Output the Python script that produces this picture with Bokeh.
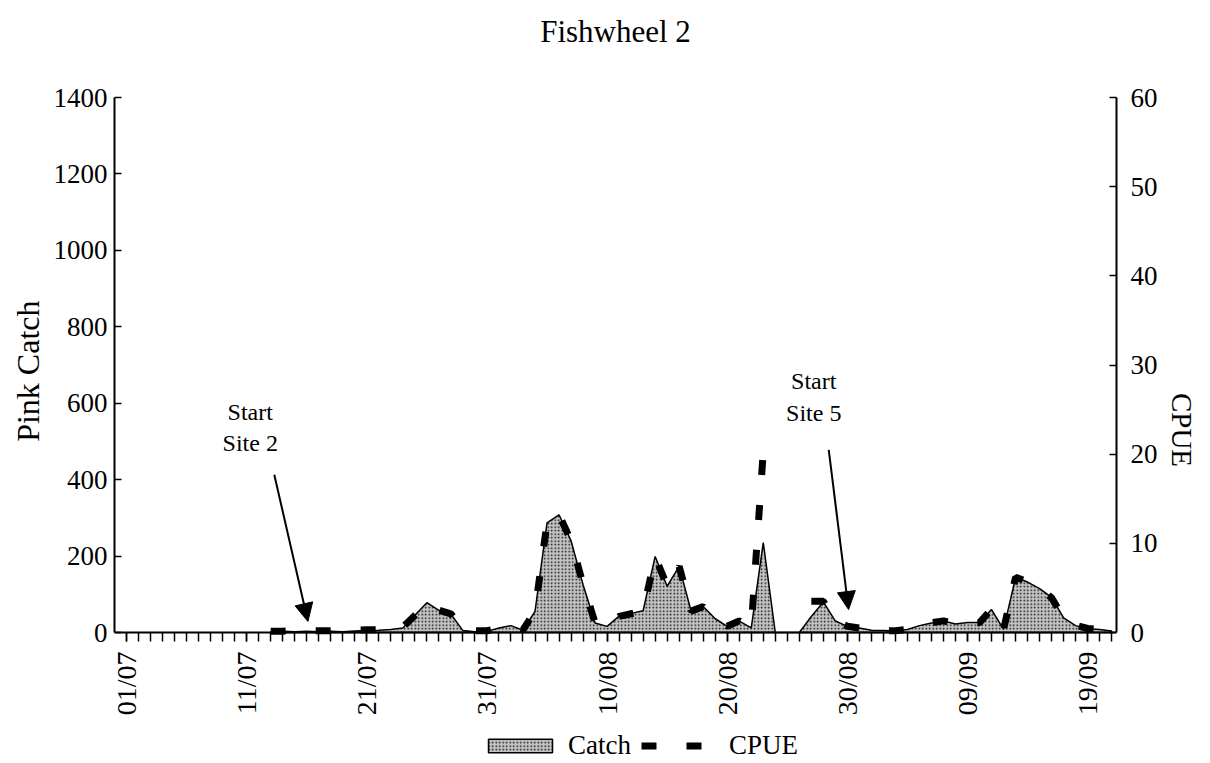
import math
import numpy as np
from bokeh.plotting import figure
from bokeh.models import (Range1d, LinearAxis, FixedTicker, Label, Arrow, Title,
                          NormalHead, Legend, LegendItem, ColumnDataSource)
from bokeh.embed import file_html
from bokeh.resources import INLINE

# ---------------- data ----------------
days = list(range(12, 83))          # day index, 0 = 01/07
catch = [2, 3, 2, 3, 2, 3, 2, 4, 5, 6, 8,
         12, 45, 78, 58, 48, 5, 2, 3, 12, 18, 6,
         55, 287, 308, 240, 125, 25, 16, 43, 50, 57,
         199, 121, 173, 55, 68, 36, 16, 30, 12, 235,
         0, 0, 0, 42, 80, 30, 16, 12, 6, 5, 4, 8,
         18, 25, 30, 22, 26, 26, 60, 8, 144, 132, 115,
         92, 38, 18, 10, 8, 4]
nan = float("nan")
cpue = [0.15, 0.15, 0.2, 0.2, 0.2, 0.2, 0.2, 0.25, 0.3, 0.3, 0.5,
        0.6, 1.9, 3.2, 2.5, 2.1, 0.3, 0.2, 0.2, 0.5, 0.6, 0.3,
        2.4, 12.3, 13.2, 10.3, 5.4, 1.1, 0.7, 1.8, 2.1, 2.4,
        8.5, 5.2, 7.4, 2.4, 2.9, 1.5, 0.7, 1.3, 0.6, 20.3,
        nan, nan, nan, 3.5, 3.5, 1.3, 0.7, 0.5, 0.3, 0.2, 0.2, 0.35,
        0.8, 1.1, 1.3, 0.95, 1.1, 1.1, 2.6, 0.35, 6.2, 5.7, 4.9,
        3.9, 1.6, 0.8, 0.45, 0.35, 0.2]

tick_days = [0, 10, 20, 30, 40, 50, 60, 70, 80]
tick_labels = ["01/07", "11/07", "21/07", "31/07", "10/08",
               "20/08", "30/08", "09/09", "19/09"]

# annotations (data coordinates: day, catch)
note_text = ["Start", "Site 2", "Start", "Site 5"]
note_x = [10.3, 10.3, 57.2, 57.2]
note_y = [577, 496, 658, 574]
arrow_x0 = [12.3, 58.45]
arrow_y0 = [413, 478]
arrow_x1 = [15.1, 60.1]
arrow_y1 = [29, 60]

FONT = "Liberation Serif"

# layout: value axes occupy 535 px; the frame continues 130 px below zero
# so the date labels and the legend sit inside it
AXIS_PX = 535
BELOW_PX = 130
catch_max, cpue_max = 1400, 60
catch_min = -catch_max * BELOW_PX / AXIS_PX
cpue_min = -cpue_max * BELOW_PX / AXIS_PX

# ---------------- figure ----------------
p = figure(frame_width=1002, frame_height=AXIS_PX + BELOW_PX, output_backend="svg",
           toolbar_location=None, x_range=Range1d(-1.0, 82.4),
           y_range=Range1d(catch_min, catch_max), title=None,
           min_border_left=114, min_border_right=94,
           min_border_top=97, min_border_bottom=0)
p.extra_y_ranges = {"cpue": Range1d(cpue_min, cpue_max)}
p.grid.visible = False
p.outline_line_color = None
p.background_fill_color = "white"
p.border_fill_color = "white"

# spacer between frame and title, then the title itself
p.add_layout(Title(text=" ", text_font_size="1px", standoff=46), "above")
p.add_layout(Title(text="Fishwheel 2", align="center", text_font=FONT,
                   text_font_size="31px", text_font_style="normal",
                   text_color="black", standoff=0), "above")

# catch area (polygon closed down to zero)
xs = days + days[::-1]
ys = catch + [0] * len(days)
area = p.patch(xs, ys, fill_color="#c4c4c4", line_color="black", line_width=1.5,
               hatch_pattern="dot", hatch_color="#111111", hatch_scale=3.5,
               hatch_weight=1.2)

src = ColumnDataSource(dict(d=days, c=np.array(cpue, dtype=float)))
cp = p.line("d", "c", source=src, y_range_name="cpue", line_color="black",
            line_width=7, line_dash="15 30", line_cap="butt")

# axes styling
xa = p.xaxis[0]
xa.fixed_location = 0
xa.bounds = (-1.0, 82.4)
xa.ticker = FixedTicker(ticks=tick_days, minor_ticks=list(range(0, 83)))
xa.major_label_overrides = {d: s for d, s in zip(tick_days, tick_labels)}
xa.major_label_orientation = math.pi / 2
xa.major_tick_in = 0
xa.major_tick_out = 9
xa.minor_tick_in = 0
xa.minor_tick_out = 9
xa.major_label_standoff = 10

ya = p.yaxis[0]
ya.bounds = (0, catch_max)
ya.ticker = FixedTicker(ticks=list(range(0, 1401, 200)))
ya.major_tick_in = 7
ya.major_tick_out = 0
ya.minor_tick_line_color = None
ya.major_label_standoff = 7

ra = LinearAxis(y_range_name="cpue", bounds=(0, cpue_max),
                ticker=FixedTicker(ticks=list(range(0, 61, 10))))
ra.major_tick_in = 7
ra.major_tick_out = 0
ra.minor_tick_line_color = None
ra.major_label_standoff = 14
ra.axis_label = "CPUE"
ra.axis_label_standoff = 5
p.add_layout(ra, "right")

for ax in (xa, ya, ra):
    ax.axis_line_width = 2
    ax.axis_line_color = "black"
    ax.major_tick_line_width = 1.5
    ax.minor_tick_line_width = 1.5
    ax.major_label_text_font = FONT
    ax.major_label_text_font_size = "27px"
    ax.major_label_text_color = "black"
    ax.axis_label_text_font = FONT
    ax.axis_label_text_font_style = "normal"
    ax.axis_label_text_color = "black"
xa.major_label_text_font_size = "28px"
ra.axis_label_text_font_size = "29px"

# left axis title, placed against the value part of the axis
p.add_layout(Title(text="Pink Catch", align="right", offset=203, text_font=FONT,
                   text_font_size="32px", text_font_style="normal",
                   text_color="black"), "left")

# annotations
for t, x, y in zip(note_text, note_x, note_y):
    p.add_layout(Label(x=x, y=y, text=t, text_font=FONT, text_font_size="24px",
                       text_align="center", text_baseline="middle", text_color="black"))
for x0, y0, x1, y1 in zip(arrow_x0, arrow_y0, arrow_x1, arrow_y1):
    p.add_layout(Arrow(x_start=x0, y_start=y0, x_end=x1, y_end=y1, line_width=2,
                       end=NormalHead(size=18, fill_color="black", line_color="black")))

legend = Legend(items=[LegendItem(label="Catch", renderers=[area]),
                       LegendItem(label="CPUE", renderers=[cp])],
                orientation="horizontal", location=(366, 1),
                glyph_width=80, glyph_height=17, label_standoff=8, spacing=10,
                padding=0, margin=0, border_line_alpha=0, background_fill_alpha=0,
                label_text_font=FONT, label_text_font_size="27px",
                label_text_color="black")
p.add_layout(legend, "center")

open("out.html", "w").write(file_html(p, INLINE))
